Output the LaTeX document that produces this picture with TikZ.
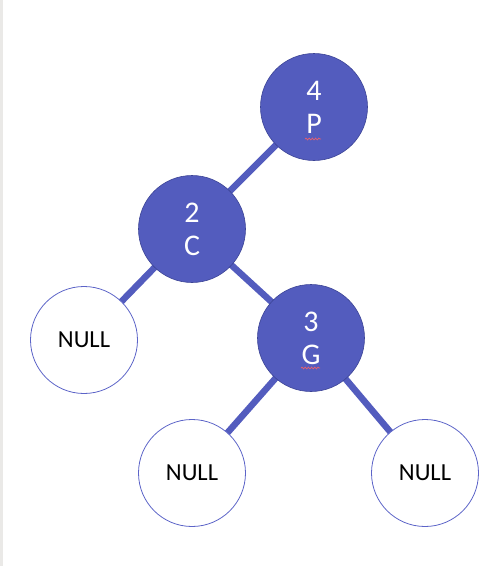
\documentclass[tikz,border=0pt]{standalone}
\usepackage{fontspec}
\setmainfont{Carlito}
\usetikzlibrary{decorations.pathmorphing,backgrounds}
\definecolor{nodeblue}{RGB}{83,92,190}
\definecolor{nodeedge}{RGB}{60,68,150}
\definecolor{nulledge}{RGB}{92,100,200}
\definecolor{leftbar}{RGB}{234,233,231}
\definecolor{squig}{RGB}{232,96,110}
\tikzset{
  full/.style={circle, minimum size=107pt, inner sep=0pt, fill=nodeblue, draw=nodeedge, line width=0.6pt,
    text=white, align=center, font=\fontsize{30}{33}\selectfont},
  nullnode/.style={circle, minimum size=107pt, inner sep=0pt, fill=white, draw=nulledge, line width=0.8pt,
    text=black, font=\fontsize{24.5}{28}\selectfont},
  edge/.style={draw=nodeblue, line width=6.5pt},
  wavy/.style={draw=squig, line width=0.7pt, decorate, decoration={snake, amplitude=0.9pt, segment length=3.2pt}}
}
\begin{document}
\begin{tikzpicture}[x=1pt,y=-1pt]
\useasboundingbox (0,0) rectangle (499,566);
\fill[leftbar] (0,0) rectangle (3,566);
% nodes
\node[full] (n4) at (314,107) {4\\P};
\node[full] (n2) at (192,229) {2\\C};
\node[nullnode] (nl) at (84,340) {NULL};
\node[full] (n3) at (311,338) {3\\G};
\node[nullnode] (nbl) at (192,473) {NULL};
\node[nullnode] (nbr) at (425,473) {NULL};
% spell-check marks
\coordinate (sp1) at (305,139);
\coordinate (sp2) at (321,139);
\coordinate (sg1) at (301,368);
\coordinate (sg2) at (320,368);
\draw[wavy] (sp1) -- (sp2);
\draw[wavy] (sg1) -- (sg2);
% edges behind
\begin{scope}[on background layer]
\draw[edge] (n4.center) -- (n2.center);
\draw[edge] (n2.center) -- (nl.center);
\draw[edge] (n2.center) -- (n3.center);
\draw[edge] (n3.center) -- (nbl.center);
\draw[edge] (n3.center) -- (nbr.center);
\end{scope}
\end{tikzpicture}
\end{document}
